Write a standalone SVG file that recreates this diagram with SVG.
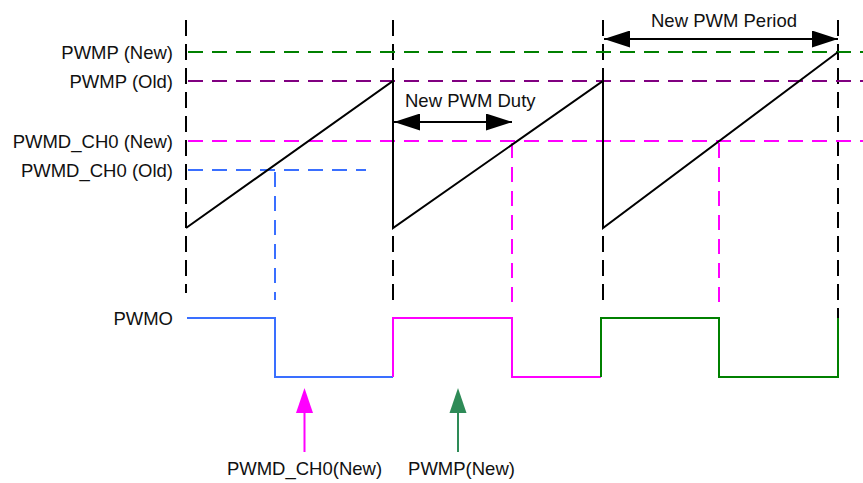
<svg xmlns="http://www.w3.org/2000/svg" width="863" height="483" viewBox="0 0 863 483">
<style>
text{font-family:"Liberation Sans",Arial,sans-serif;font-size:18.5px;fill:#111}
.lab{text-anchor:end}
.vd{stroke:#000;stroke-width:2;stroke-dasharray:16 8;fill:none}
.hd{stroke-width:2;stroke-dasharray:15 9;fill:none}
.saw{stroke:#000;stroke-width:2;fill:none}
.wave{stroke-width:2;fill:none}
</style>
<defs>
<marker id="ah" viewBox="0 0 26 17" refX="26" refY="8.5" markerWidth="26" markerHeight="17" markerUnits="userSpaceOnUse" orient="auto-start-reverse">
<path d="M0,0 L26,8.5 L0,17 Z" fill="#000"/>
</marker>
</defs>
<g id="guides">
<line class="vd" x1="186" y1="20" x2="186" y2="293"/>
<line class="vd" x1="393" y1="20" x2="393" y2="300"/>
<line class="vd" x1="603" y1="20" x2="603" y2="300"/>
<line class="vd" x1="838" y1="20" x2="838" y2="318"/>
<line class="hd" stroke="#008000" x1="188" y1="52" x2="863" y2="52"/>
<line class="hd" stroke="#800080" x1="188" y1="81" x2="863" y2="81"/>
<line class="hd" stroke="#ff00ff" x1="188" y1="141" x2="863" y2="141"/>
<line class="hd" stroke="#3a6fff" x1="188" y1="170" x2="366" y2="170"/>
<line class="hd" stroke="#3a6fff" x1="275" y1="172" x2="275" y2="300"/>
<line class="hd" stroke="#ff00ff" x1="512" y1="143" x2="512" y2="310"/>
<line class="hd" stroke="#ff00ff" x1="719" y1="143" x2="719" y2="310"/>
</g>
<g id="sawtooth">
<path class="saw" d="M186,228 L393,81 L393,228 L603,81 L603,228 L838,52"/>
</g>
<g id="pwmo">
<path class="wave" stroke="#3a6fff" d="M187,318 H275 V377 H393"/>
<path class="wave" stroke="#ff00ff" d="M393,377 V318 H512 V377 H601"/>
<path class="wave" stroke="#008000" d="M601,377 V318 H719 V377 H838 V318"/>
</g>
<g id="labels">
<text class="lab" x="173" y="58.5">PWMP (New)</text>
<text class="lab" x="173" y="87.5">PWMP (Old)</text>
<text class="lab" x="173" y="147.5">PWMD_CH0 (New)</text>
<text class="lab" x="173" y="176.5">PWMD_CH0 (Old)</text>
<text class="lab" x="173" y="324.5">PWMO</text>
<text x="405" y="107">New PWM Duty</text>
<text x="651" y="27">New PWM Period</text>
<text x="304.5" y="475" text-anchor="middle">PWMD_CH0(New)</text>
<text x="461.5" y="475" text-anchor="middle">PWMP(New)</text>
</g>
<g id="connectors">
<line x1="394" y1="122" x2="512" y2="122" stroke="#000" stroke-width="2" marker-start="url(#ah)" marker-end="url(#ah)"/>
<line x1="604" y1="39" x2="838" y2="39" stroke="#000" stroke-width="2" marker-start="url(#ah)" marker-end="url(#ah)"/>
<line x1="304.5" y1="452" x2="304.5" y2="410" stroke="#ff00ff" stroke-width="2"/>
<path d="M296,413 L304.5,388 L313,413 Z" fill="#ff00ff"/>
<line x1="458" y1="452" x2="458" y2="410" stroke="#2e8b57" stroke-width="2"/>
<path d="M449.5,413 L458,388 L466.5,413 Z" fill="#2e8b57"/>
</g>
</svg>
